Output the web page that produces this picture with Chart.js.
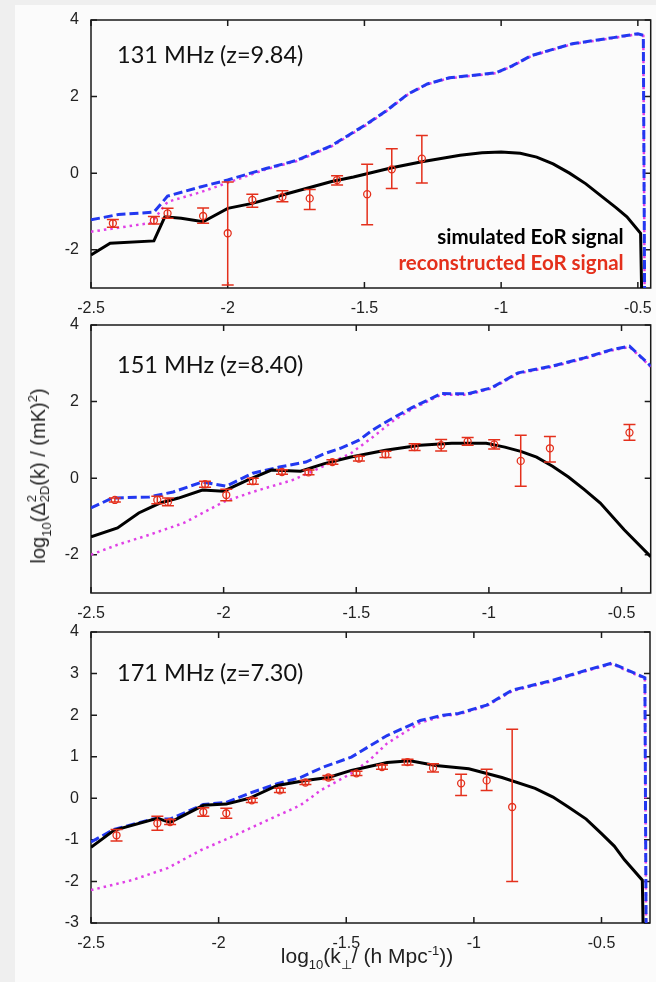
<!DOCTYPE html>
<html>
<head>
<meta charset="utf-8">
<script src="https://cdn.jsdelivr.net/npm/chart.js@4.4.0/dist/chart.umd.min.js"></script>
<style>
  body { margin: 0; background: #efefef; }
  #page { position: relative; width: 656px; height: 982px; overflow: hidden; }
  #sheet { position: absolute; left: 15px; top: 5px; right: 0; bottom: 0; background: #fbfbfb; }
  canvas { position: absolute; left: 0; }
  .title { position: absolute; font: 20px "Liberation Sans", Arial, sans-serif; color: #222; white-space: nowrap; }
  .title sub, .title sup { font-size: 13px; line-height: 0; }
  .title sub { vertical-align: -6px; }
  .title sup { vertical-align: 8px; }
  .stack { display: inline-block; vertical-align: -4px; font-size: 13px; line-height: 13px; }
  .stack span { display: block; }
  #ytitle { left: 38px; top: 476px; transform: translate(-50%, -50%) rotate(-90deg); }
  #xtitle { left: 367px; top: 944px; transform: translateX(-50%); font-size: 21px; }
</style>
</head>
<body>
<div id="page">
  <div id="sheet"></div>
  <canvas id="c131" width="656" height="330" style="top:0"></canvas>
  <canvas id="c151" width="656" height="325" style="top:305px"></canvas>
  <canvas id="c171" width="656" height="370" style="top:612px"></canvas>
  <div class="title" id="ytitle">log<sub>10</sub>(&Delta;<span class="stack"><span>2</span><span>2D</span></span>(k) / (mK)<sup>2</sup>)</div>
  <div class="title" id="xtitle">log<sub>10</sub>(k<sub>&perp;</sub>/ (h Mpc<sup>-1</sup>))</div>
</div>
<script>
'use strict'

// tick labels
const xTicks = [-2.5, -2, -1.5, -1, -0.5];
const yTicksShort = [-2, 0, 2, 4];
const yTicksLong = [-3, -2, -1, 0, 1, 2, 3, 4];

// ---- 131 MHz (z=9.84) ----  [log10 k, log10 Delta^2]
const total131 = [[-2.5,-1.22],[-2.4,-1.08],[-2.27,-1.02],[-2.22,-0.6],[-2.1,-0.36],[-2.0,-0.18],[-1.86,0.12],[-1.75,0.33],[-1.62,0.72],[-1.49,1.29],[-1.42,1.63],[-1.34,2.07],[-1.27,2.33],[-1.19,2.49],[-1.11,2.55],[-1.02,2.62],[-0.96,2.8],[-0.89,3.07],[-0.74,3.38],[-0.59,3.54],[-0.5,3.64],[-0.48,3.6],[-0.475,-3.5]];
const fg131 = [[-2.5,-1.53],[-2.28,-1.3],[-2.22,-0.75],[-2.1,-0.5],[-2.0,-0.25],[-1.86,0.1],[-1.75,0.31],[-1.62,0.7],[-1.49,1.27],[-1.42,1.62],[-1.34,2.06],[-1.27,2.32],[-1.19,2.48],[-1.11,2.54],[-1.02,2.61],[-0.96,2.79],[-0.89,3.06],[-0.74,3.37],[-0.59,3.53],[-0.5,3.63],[-0.48,3.59],[-0.475,-3.5]];
const sim131 = [[-2.5,-2.14],[-2.43,-1.83],[-2.27,-1.77],[-2.23,-1.14],[-2.17,-1.18],[-2.09,-1.27],[-2.0,-0.92],[-1.91,-0.79],[-1.8,-0.57],[-1.62,-0.22],[-1.54,-0.1],[-1.4,0.14],[-1.29,0.3],[-1.15,0.47],[-1.07,0.53],[-1.0,0.55],[-0.93,0.52],[-0.87,0.42],[-0.81,0.24],[-0.75,0.0],[-0.69,-0.28],[-0.63,-0.62],[-0.58,-0.9],[-0.54,-1.14],[-0.49,-1.57],[-0.485,-3.5]];
// [k, value, low, high]
const rec131 = [[-2.42,-1.31,-1.41,-1.21],[-2.27,-1.23,-1.33,-1.13],[-2.22,-1.05,-1.18,-0.92],[-2.09,-1.12,-1.31,-0.91],[-2.0,-1.57,-2.92,-0.23],[-1.91,-0.7,-0.89,-0.55],[-1.8,-0.62,-0.75,-0.46],[-1.7,-0.66,-0.95,-0.43],[-1.6,-0.18,-0.31,-0.07],[-1.49,-0.55,-1.35,0.23],[-1.4,0.1,-0.4,0.64],[-1.29,0.38,-0.26,0.98]];

// ---- 151 MHz (z=8.40) ----
const total151 = [[-2.5,-0.78],[-2.42,-0.52],[-2.28,-0.49],[-2.19,-0.36],[-2.08,-0.1],[-1.99,-0.21],[-1.89,0.13],[-1.79,0.29],[-1.69,0.42],[-1.62,0.64],[-1.56,0.78],[-1.49,0.99],[-1.44,1.25],[-1.36,1.58],[-1.29,1.84],[-1.18,2.21],[-1.08,2.2],[-0.99,2.36],[-0.89,2.75],[-0.76,2.93],[-0.64,3.14],[-0.54,3.35],[-0.47,3.45],[-0.39,2.93]];
const fg151 = [[-2.5,-2.0],[-2.4,-1.74],[-2.28,-1.48],[-2.15,-1.17],[-2.0,-0.62],[-1.89,-0.36],[-1.74,-0.05],[-1.64,0.26],[-1.52,0.65],[-1.44,1.06],[-1.36,1.5],[-1.29,1.8],[-1.18,2.18],[-1.08,2.18],[-0.99,2.34],[-0.89,2.73],[-0.76,2.91],[-0.64,3.12],[-0.54,3.33],[-0.47,3.43],[-0.39,2.91]];
const sim151 = [[-2.5,-1.53],[-2.4,-1.3],[-2.32,-0.91],[-2.24,-0.65],[-2.17,-0.52],[-2.08,-0.31],[-2.0,-0.34],[-1.91,-0.05],[-1.82,0.21],[-1.71,0.18],[-1.62,0.38],[-1.52,0.55],[-1.39,0.73],[-1.26,0.86],[-1.14,0.91],[-1.01,0.91],[-0.94,0.81],[-0.88,0.7],[-0.82,0.55],[-0.76,0.31],[-0.7,0.03],[-0.64,-0.3],[-0.58,-0.65],[-0.49,-1.35],[-0.39,-2.05]];
const rec151 = [[-2.41,-0.57,-0.62,-0.52],[-2.25,-0.57,-0.67,-0.47],[-2.21,-0.62,-0.72,-0.52],[-2.07,-0.16,-0.24,-0.08],[-1.99,-0.44,-0.59,-0.29],[-1.89,-0.08,-0.16,0.0],[-1.78,0.16,0.1,0.22],[-1.68,0.15,0.09,0.21],[-1.59,0.42,0.36,0.48],[-1.49,0.51,0.45,0.57],[-1.39,0.62,0.54,0.7],[-1.28,0.81,0.72,0.9],[-1.18,0.86,0.71,1.01],[-1.08,0.96,0.86,1.06],[-0.98,0.88,0.76,1.0],[-0.88,0.45,-0.21,1.12],[-0.77,0.78,0.42,1.09],[-0.47,1.19,0.99,1.4]];

// ---- 171 MHz (z=7.30) ----
const total171 = [[-2.5,-1.05],[-2.41,-0.75],[-2.26,-0.5],[-2.19,-0.5],[-2.06,-0.15],[-1.97,-0.1],[-1.88,0.12],[-1.77,0.35],[-1.68,0.5],[-1.59,0.75],[-1.48,0.99],[-1.34,1.51],[-1.21,1.87],[-1.12,2.0],[-1.06,2.04],[-0.95,2.24],[-0.85,2.6],[-0.69,2.84],[-0.56,3.08],[-0.46,3.25],[-0.33,2.9],[-0.325,-3.5]];
const fg171 = [[-2.5,-2.21],[-2.34,-1.97],[-2.2,-1.68],[-2.07,-1.25],[-1.95,-0.93],[-1.81,-0.53],[-1.68,-0.17],[-1.6,0.19],[-1.48,0.6],[-1.41,0.91],[-1.34,1.32],[-1.21,1.82],[-1.12,1.98],[-1.06,2.02],[-0.95,2.22],[-0.85,2.58],[-0.69,2.82],[-0.56,3.06],[-0.46,3.23],[-0.33,2.88],[-0.325,-3.5]];
const sim171 = [[-2.5,-1.18],[-2.41,-0.77],[-2.24,-0.48],[-2.19,-0.58],[-2.06,-0.17],[-1.97,-0.14],[-1.88,0.0],[-1.77,0.31],[-1.66,0.43],[-1.57,0.5],[-1.48,0.67],[-1.34,0.86],[-1.25,0.9],[-1.15,0.79],[-1.02,0.71],[-0.89,0.5],[-0.76,0.24],[-0.69,0.03],[-0.63,-0.21],[-0.56,-0.5],[-0.5,-0.85],[-0.45,-1.15],[-0.41,-1.48],[-0.34,-1.97],[-0.336,-3.5]];
const rec171 = [[-2.4,-0.89,-1.03,-0.75],[-2.24,-0.6,-0.77,-0.43],[-2.19,-0.57,-0.63,-0.51],[-2.06,-0.33,-0.43,-0.23],[-1.97,-0.36,-0.48,-0.24],[-1.87,-0.05,-0.1,0.0],[-1.76,0.19,0.14,0.24],[-1.66,0.38,0.33,0.43],[-1.57,0.5,0.45,0.55],[-1.46,0.6,0.55,0.65],[-1.36,0.75,0.7,0.8],[-1.26,0.87,0.8,0.94],[-1.16,0.73,0.63,0.83],[-1.05,0.36,0.07,0.58],[-0.95,0.43,0.19,0.7],[-0.85,-0.21,-2.0,1.66]];

const RED = '#e4301c';
const BLUE = '#2238f0';
const PINK = '#e040e6';

const pts = arr => arr.map(p => ({x: p[0], y: p[1]}));

// error bars drawn through the chart scales
const errorBars = {
  id: 'errorBars',
  afterDatasetsDraw(chart) {
    const {ctx, scales: {x, y}} = chart;
    chart.data.datasets.forEach(ds => {
      if (!ds.errLow) return;
      ctx.save();
      ctx.strokeStyle = ds.borderColor;
      ctx.lineWidth = 1.5;
      ctx.beginPath();
      ds.data.forEach((p, j) => {
        const px = x.getPixelForValue(p.x);
        const lo = y.getPixelForValue(ds.errLow[j]);
        const hi = y.getPixelForValue(ds.errHigh[j]);
        ctx.moveTo(px, lo); ctx.lineTo(px, hi);
        ctx.moveTo(px - 6, lo); ctx.lineTo(px + 6, lo);
        ctx.moveTo(px - 6, hi); ctx.lineTo(px + 6, hi);
      });
      ctx.stroke();
      ctx.restore();
    });
  }
};

// matlab style box with inward ticks
const frame = {
  id: 'frame',
  beforeDatasetsDraw(chart) {
    const {ctx, chartArea: a, scales: {x, y}} = chart;
    ctx.save();
    ctx.strokeStyle = '#1a1a1a';
    ctx.lineWidth = 1.5;
    ctx.strokeRect(a.left, a.top, a.width, a.height);
    ctx.beginPath();
    x.ticks.forEach(t => {
      const px = x.getPixelForValue(t.value);
      ctx.moveTo(px, a.bottom); ctx.lineTo(px, a.bottom - 6);
      ctx.moveTo(px, a.top); ctx.lineTo(px, a.top + 6);
    });
    y.ticks.forEach(t => {
      const py = y.getPixelForValue(t.value);
      ctx.moveTo(a.left, py); ctx.lineTo(a.left + 6, py);
      ctx.moveTo(a.right, py); ctx.lineTo(a.right - 6, py);
    });
    ctx.stroke();
    ctx.restore();
  }
};

// text inside the panels
const panelText = {
  id: 'panelText',
  afterDraw(chart, args, opts) {
    const {ctx, chartArea: a} = chart;
    (opts.items || []).forEach(it => {
      ctx.save();
      ctx.font = it.font;
      ctx.fillStyle = it.color;
      ctx.textAlign = it.align;
      ctx.textBaseline = 'middle';
      const px = it.align === 'right' ? a.right - it.dx : a.left + it.dx;
      ctx.fillText(it.text, px, a.top + it.dy);
      ctx.restore();
    });
  }
};

function makePanel(id, label, total, fg, sim, rec, xMax, yTicks, padTop, padRight, xAxisH, extra) {
  const tickFont = {family: '"Liberation Sans", Arial, sans-serif', size: 16};
  new Chart(document.getElementById(id), {
    type: 'scatter',
    data: {
      datasets: [
        {
          label: 'reconstructed EoR signal',
          data: pts(rec),
          errLow: rec.map(r => r[2]),
          errHigh: rec.map(r => r[3]),
          borderColor: RED,
          backgroundColor: 'rgba(0,0,0,0)',
          pointRadius: 3.5,
          pointBorderWidth: 1.3,
          showLine: false
        },
        {
          label: 'simulated EoR signal',
          data: pts(sim),
          borderColor: '#000',
          borderWidth: 3,
          pointRadius: 0,
          showLine: true
        },
        {
          label: 'total',
          data: pts(total),
          borderColor: BLUE,
          borderWidth: 3,
          borderDash: [9, 4],
          pointRadius: 0,
          showLine: true
        },
        {
          label: 'foreground',
          data: pts(fg),
          borderColor: PINK,
          borderWidth: 2.5,
          borderDash: [2.5, 4],
          pointRadius: 0,
          showLine: true
        }
      ]
    },
    options: {
      responsive: false,
      animation: false,
      layout: {padding: {top: padTop, right: padRight, left: 0, bottom: 0}},
      plugins: {
        legend: {display: false},
        tooltip: {enabled: false},
        panelText: {
          items: [{text: label, font: '23.5px Lato, sans-serif', color: '#111', align: 'left', dx: 26, dy: extra.labelY}].concat(extra.items || [])
        }
      },
      scales: {
        x: {
          type: 'linear',
          min: -2.5,
          max: xMax,
          grid: {display: false},
          border: {display: false},
          afterBuildTicks: s => { s.ticks = xTicks.map(v => ({value: v})); },
          afterFit: s => { s.height = xAxisH; s.paddingLeft = 0; s.paddingRight = 0; },
          ticks: {font: tickFont, color: '#222', padding: 3, maxRotation: 0, callback: v => String(v)}
        },
        y: {
          min: -3,
          max: 4,
          grid: {display: false},
          border: {display: false},
          afterBuildTicks: s => { s.ticks = yTicks.map(v => ({value: v})); },
          afterFit: s => { s.width = 91; s.paddingTop = 0; s.paddingBottom = 0; },
          ticks: {font: tickFont, color: '#222', padding: 4, callback: v => String(v)}
        }
      }
    },
    plugins: [frame, errorBars, panelText]
  });
}

makePanel('c131', '131 MHz (z=9.84)', total131, fg131, sim131, rec131, -0.453, yTicksShort, 20, 4, 42, {
  labelY: 35,
  items: [
    {text: 'simulated EoR signal', font: 'bold 20.5px Lato, sans-serif', color: '#000', align: 'right', dx: 27, dy: 217},
    {text: 'reconstructed EoR signal', font: 'bold 20.5px Lato, sans-serif', color: RED, align: 'right', dx: 27, dy: 243}
  ]
});
makePanel('c151', '151 MHz (z=8.40)', total151, fg151, sim151, rec151, -0.39, yTicksShort, 20, 4, 37, {labelY: 40});
makePanel('c171', '171 MHz (z=7.30)', total171, fg171, sim171, rec171, -0.31, yTicksLong, 20, 6, 59, {labelY: 41});
</script>
</body>
</html>
